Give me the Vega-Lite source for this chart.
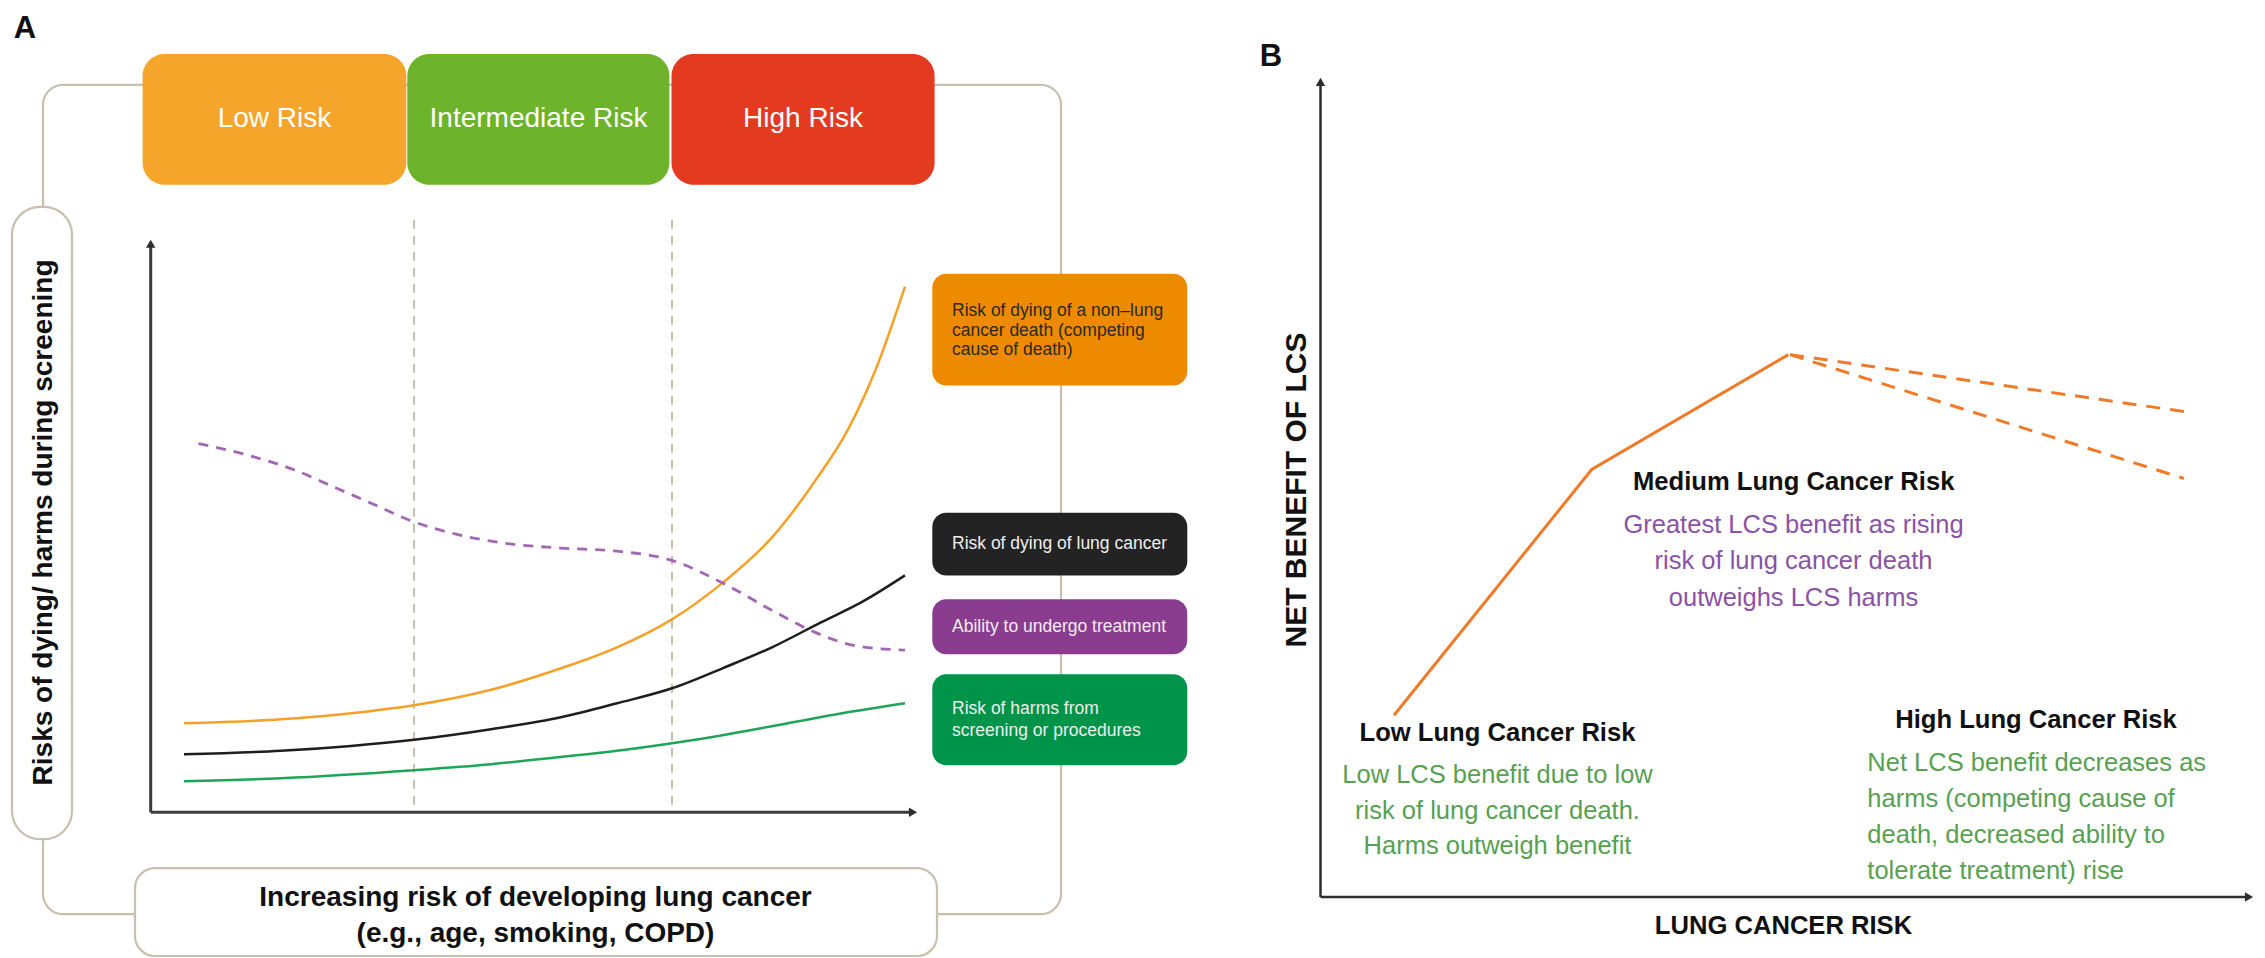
{
  "$schema": "https://vega.github.io/schema/vega-lite/v6.json",
  "width": 2265,
  "height": 958,
  "autosize": {"type": "fit", "contains": "padding"},
  "padding": 0,
  "background": "#FFFFFF",
  "config": {"view": {"stroke": null}, "font": "Liberation Sans", "text": {"font": "Liberation Sans"}},
  "encoding": {
    "x": {"field": "x", "type": "quantitative", "scale": {"domain": [0, 2265], "nice": false, "zero": false}, "axis": null},
    "y": {"field": "y", "type": "quantitative", "scale": {"domain": [0, 958], "nice": false, "zero": false, "reverse": true}, "axis": null}
  },
  "layer": [
    {
      "data": {"values": [{"x": 43, "y": 85, "x2": 1061, "y2": 915}]},
      "mark": {"type": "rect", "cornerRadius": 20, "fill": "#FFFFFF", "fillOpacity": 0, "stroke": "#C9BFAE", "strokeWidth": 2.2},
      "encoding": {"x2": {"field": "x2"}, "y2": {"field": "y2"}}
    },
    {
      "data": {"values": [{"x": 12, "y": 207, "x2": 72, "y2": 840}]},
      "mark": {"type": "rect", "cornerRadius": 28, "fill": "#FFFFFF", "stroke": "#C9BFAE", "strokeWidth": 2.2},
      "encoding": {"x2": {"field": "x2"}, "y2": {"field": "y2"}}
    },
    {
      "data": {"values": [{"x": 135, "y": 869, "x2": 937, "y2": 957}]},
      "mark": {"type": "rect", "cornerRadius": 20, "fill": "#FFFFFF", "stroke": "#C9BFAE", "strokeWidth": 2.2},
      "encoding": {"x2": {"field": "x2"}, "y2": {"field": "y2"}}
    },
    {
      "data": {"values": [
        {"x": 142.6, "y": 54, "x2": 406.3, "y2": 185, "kind": "Low Risk"},
        {"x": 407.3, "y": 54, "x2": 669.4, "y2": 185, "kind": "Intermediate Risk"},
        {"x": 671.5, "y": 54, "x2": 934.6, "y2": 185, "kind": "High Risk"}
      ]},
      "mark": {"type": "rect", "cornerRadius": 22},
      "encoding": {
        "x2": {"field": "x2"}, "y2": {"field": "y2"},
        "fill": {"field": "kind", "type": "nominal", "legend": null,
          "scale": {"domain": ["Low Risk", "Intermediate Risk", "High Risk", "non-lung", "lung", "ability", "harms"],
                    "range": ["#F5A52A", "#6DB32B", "#E43A20", "#EE8A00", "#232323", "#8A3D8F", "#00944A"]}}
      }
    },
    {
      "data": {"values": [
        {"x": 932.3, "y": 274, "x2": 1187.3, "y2": 386, "kind": "non-lung"},
        {"x": 932.3, "y": 513.3, "x2": 1187.3, "y2": 576, "kind": "lung"},
        {"x": 932.3, "y": 600, "x2": 1187.3, "y2": 655, "kind": "ability"},
        {"x": 932.3, "y": 675, "x2": 1187.3, "y2": 766, "kind": "harms"}
      ]},
      "mark": {"type": "rect", "cornerRadius": 14},
      "encoding": {
        "x2": {"field": "x2"}, "y2": {"field": "y2"},
        "fill": {"field": "kind", "type": "nominal", "legend": null,
          "scale": {"domain": ["Low Risk", "Intermediate Risk", "High Risk", "non-lung", "lung", "ability", "harms"],
                    "range": ["#F5A52A", "#6DB32B", "#E43A20", "#EE8A00", "#232323", "#8A3D8F", "#00944A"]}}
      }
    },
    {
      "data": {"values": [
        {"x": 414, "y": 220, "x2": 414, "y2": 813},
        {"x": 672, "y": 220, "x2": 672, "y2": 813}
      ]},
      "mark": {"type": "rule", "color": "#C9BFAE", "strokeWidth": 2, "strokeDash": [9, 7]},
      "encoding": {"x2": {"field": "x2"}, "y2": {"field": "y2"}}
    },
    {
      "data": {"values": [
        {"x": 150.7, "y": 813, "x2": 150.7, "y2": 246},
        {"x": 150.7, "y": 813, "x2": 912, "y2": 813}
      ]},
      "mark": {"type": "rule", "color": "#3C3C3C", "strokeWidth": 3},
      "encoding": {"x2": {"field": "x2"}, "y2": {"field": "y2"}}
    },
    {
      "data": {"values": [
        {"x": 1320.5, "y": 898, "x2": 1320.5, "y2": 84},
        {"x": 1320.5, "y": 898, "x2": 2248, "y2": 898}
      ]},
      "mark": {"type": "rule", "color": "#2E2E2E", "strokeWidth": 2.5},
      "encoding": {"x2": {"field": "x2"}, "y2": {"field": "y2"}}
    },
    {
      "data": {"values": [{"x": 150.7, "y": 244}, {"x": 1320.5, "y": 82}]},
      "mark": {"type": "point", "shape": "triangle-up", "filled": true, "size": 90, "color": "#2E2E2E", "opacity": 1}
    },
    {
      "data": {"values": [{"x": 913, "y": 813}, {"x": 2249, "y": 898}]},
      "mark": {"type": "point", "shape": "triangle-right", "filled": true, "size": 90, "color": "#2E2E2E", "opacity": 1}
    },
    {
      "data": {"values": [
        {"series": "non-lung", "x": 184, "y": 724}, {"series": "non-lung", "x": 281, "y": 720}, {"series": "non-lung", "x": 351, "y": 714},
        {"series": "non-lung", "x": 414, "y": 706}, {"series": "non-lung", "x": 491, "y": 690.5}, {"series": "non-lung", "x": 561, "y": 669},
        {"series": "non-lung", "x": 617, "y": 648}, {"series": "non-lung", "x": 672, "y": 620}, {"series": "non-lung", "x": 722.5, "y": 583.5},
        {"series": "non-lung", "x": 772, "y": 538}, {"series": "non-lung", "x": 814, "y": 483}, {"series": "non-lung", "x": 849, "y": 428},
        {"series": "non-lung", "x": 877, "y": 366.6}, {"series": "non-lung", "x": 905, "y": 287},
        {"series": "lung", "x": 184, "y": 755}, {"series": "lung", "x": 281, "y": 751.6}, {"series": "lung", "x": 351, "y": 746.7},
        {"series": "lung", "x": 414, "y": 740.6}, {"series": "lung", "x": 491, "y": 730}, {"series": "lung", "x": 561, "y": 718},
        {"series": "lung", "x": 617, "y": 704}, {"series": "lung", "x": 672, "y": 689}, {"series": "lung", "x": 722.5, "y": 669},
        {"series": "lung", "x": 772, "y": 648}, {"series": "lung", "x": 821, "y": 623}, {"series": "lung", "x": 863, "y": 602},
        {"series": "lung", "x": 905, "y": 576},
        {"series": "harms", "x": 184, "y": 782}, {"series": "harms", "x": 281, "y": 779}, {"series": "harms", "x": 414, "y": 771},
        {"series": "harms", "x": 491, "y": 765}, {"series": "harms", "x": 561, "y": 757.7}, {"series": "harms", "x": 617, "y": 751.6},
        {"series": "harms", "x": 672, "y": 744}, {"series": "harms", "x": 722.5, "y": 736}, {"series": "harms", "x": 772, "y": 727},
        {"series": "harms", "x": 842, "y": 714}, {"series": "harms", "x": 905, "y": 704}
      ]},
      "mark": {"type": "line", "interpolate": "monotone", "strokeWidth": 2.5},
      "encoding": {
        "stroke": {"field": "series", "type": "nominal", "legend": null,
          "scale": {"domain": ["non-lung", "lung", "harms"], "range": ["#F5A128", "#1E1E1E", "#1FA557"]}}
      }
    },
    {
      "data": {"values": [
        {"x": 198.5, "y": 444}, {"x": 245.5, "y": 455}, {"x": 294.6, "y": 470.5}, {"x": 336.7, "y": 488.8},
        {"x": 371.8, "y": 504}, {"x": 414, "y": 522.4}, {"x": 456, "y": 534.7}, {"x": 505, "y": 543.8},
        {"x": 561, "y": 548.7}, {"x": 617, "y": 551.8}, {"x": 672, "y": 561}, {"x": 722.5, "y": 583.5},
        {"x": 772, "y": 611}, {"x": 814, "y": 632.5}, {"x": 856, "y": 646.5}, {"x": 905, "y": 650.8}
      ]},
      "mark": {"type": "line", "interpolate": "monotone", "strokeWidth": 2.8, "color": "#A366B5", "strokeDash": [10, 8]}
    },
    {
      "data": {"values": [{"x": 1394, "y": 716}, {"x": 1591.7, "y": 470}, {"x": 1788.3, "y": 355}]},
      "mark": {"type": "line", "strokeWidth": 3, "color": "#F07A28"}
    },
    {
      "data": {"values": [
        {"branch": "upper", "x": 1790, "y": 355}, {"branch": "upper", "x": 2184, "y": 412},
        {"branch": "lower", "x": 1790, "y": 355}, {"branch": "lower", "x": 2184, "y": 479}
      ]},
      "mark": {"type": "line", "strokeWidth": 3, "color": "#F07A28", "strokeDash": [14, 10]},
      "encoding": {"detail": {"field": "branch"}}
    },
    {
      "data": {"values": [{"x": 25, "y": 38, "label": "A"}, {"x": 1271, "y": 66, "label": "B"}]},
      "mark": {"type": "text", "fontSize": 31, "fontWeight": "bold", "align": "center", "baseline": "alphabetic", "color": "#111111"},
      "encoding": {"text": {"field": "label"}}
    },
    {
      "data": {"values": [
        {"x": 274.5, "y": 127, "label": "Low Risk"},
        {"x": 538.5, "y": 127, "label": "Intermediate Risk"},
        {"x": 803, "y": 127, "label": "High Risk"}
      ]},
      "mark": {"type": "text", "fontSize": 28, "align": "center", "baseline": "alphabetic", "color": "#FFFFFF"},
      "encoding": {"text": {"field": "label"}}
    },
    {
      "data": {"values": [{"x": 952, "y": 316.7, "label": "Risk of dying of a non–lung\ncancer death (competing\ncause of death)"}]},
      "mark": {"type": "text", "fontSize": 17.5, "align": "left", "baseline": "alphabetic", "lineBreak": "\n", "lineHeight": 19.5, "color": "#2A2A1E"},
      "encoding": {"text": {"field": "label"}}
    },
    {
      "data": {"values": [
        {"x": 952, "y": 550, "label": "Risk of dying of lung cancer"},
        {"x": 952, "y": 633, "label": "Ability to undergo treatment"},
        {"x": 952, "y": 715, "label": "Risk of harms from\nscreening or procedures"}
      ]},
      "mark": {"type": "text", "fontSize": 17.5, "align": "left", "baseline": "alphabetic", "lineBreak": "\n", "lineHeight": 21.3, "color": "#EEEEEE"},
      "encoding": {"text": {"field": "label"}}
    },
    {
      "data": {"values": [{"x": 44, "y": 523, "label": "Risks of dying/ harms during screening"}]},
      "mark": {"type": "text", "fontSize": 28, "fontWeight": "bold", "angle": 270, "align": "center", "baseline": "middle", "color": "#111111"},
      "encoding": {"text": {"field": "label"}}
    },
    {
      "data": {"values": [{"x": 535.5, "y": 906.7, "label": "Increasing risk of developing lung cancer\n(e.g., age, smoking, COPD)"}]},
      "mark": {"type": "text", "fontSize": 28, "fontWeight": "bold", "align": "center", "baseline": "alphabetic", "lineBreak": "\n", "lineHeight": 36.6, "color": "#111111"},
      "encoding": {"text": {"field": "label"}}
    },
    {
      "data": {"values": [{"x": 1297, "y": 490.5, "label": "NET BENEFIT OF LCS"}]},
      "mark": {"type": "text", "fontSize": 30, "fontWeight": "bold", "angle": 270, "align": "center", "baseline": "middle", "color": "#111111"},
      "encoding": {"text": {"field": "label"}}
    },
    {
      "data": {"values": [
        {"x": 1497.5, "y": 741.7, "label": "Low Lung Cancer Risk"},
        {"x": 1793.7, "y": 490.7, "label": "Medium Lung Cancer Risk"},
        {"x": 2036, "y": 729, "label": "High Lung Cancer Risk"},
        {"x": 1783.5, "y": 935, "label": "LUNG CANCER RISK"}
      ]},
      "mark": {"type": "text", "fontSize": 25.6, "fontWeight": "bold", "align": "center", "baseline": "alphabetic", "color": "#111111"},
      "encoding": {"text": {"field": "label"}}
    },
    {
      "data": {"values": [{"x": 1497.5, "y": 784, "label": "Low LCS benefit due to low\nrisk of lung cancer death.\nHarms outweigh benefit"}]},
      "mark": {"type": "text", "fontSize": 25.5, "align": "center", "baseline": "alphabetic", "lineBreak": "\n", "lineHeight": 35.5, "color": "#58A052"},
      "encoding": {"text": {"field": "label"}}
    },
    {
      "data": {"values": [{"x": 1867.3, "y": 771.7, "label": "Net LCS benefit decreases as\nharms (competing cause of\ndeath, decreased ability to\ntolerate treatment) rise"}]},
      "mark": {"type": "text", "fontSize": 25.5, "align": "left", "baseline": "alphabetic", "lineBreak": "\n", "lineHeight": 35.9, "color": "#58A052"},
      "encoding": {"text": {"field": "label"}}
    },
    {
      "data": {"values": [{"x": 1793.5, "y": 533.3, "label": "Greatest LCS benefit as rising\nrisk of lung cancer death\noutweighs LCS harms"}]},
      "mark": {"type": "text", "fontSize": 25.5, "align": "center", "baseline": "alphabetic", "lineBreak": "\n", "lineHeight": 36.4, "color": "#8C52A4"},
      "encoding": {"text": {"field": "label"}}
    }
  ]
}
